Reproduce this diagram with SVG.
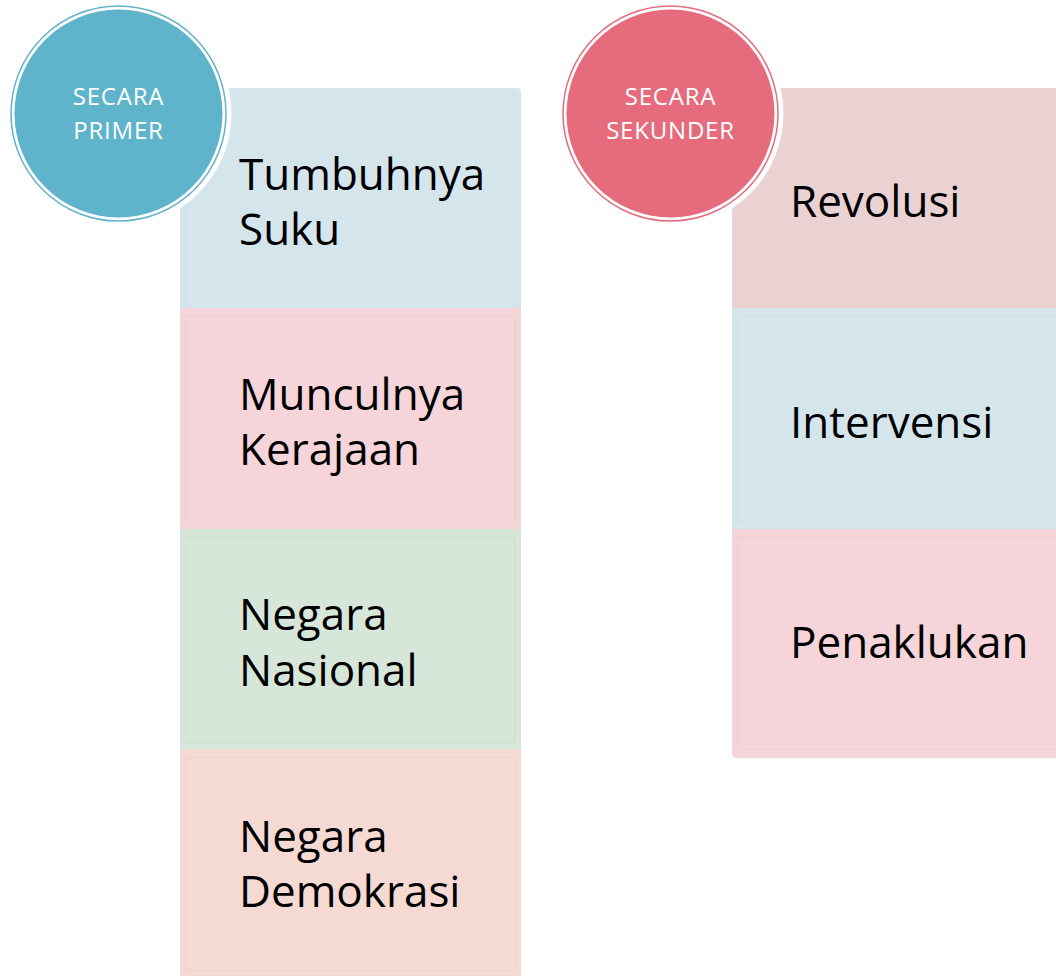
<svg xmlns="http://www.w3.org/2000/svg" width="1056" height="976" viewBox="0 0 1056 976">
<style>
.lbl{font-family:"Open Sans","Noto Sans",sans-serif;font-size:44px;fill:#000}
.ct{font-family:"Open Sans","Noto Sans",sans-serif;font-size:24px;letter-spacing:0.8px;fill:#fff;text-anchor:middle}
.inner{fill:none;stroke-opacity:0.25;stroke-width:2}
</style>
<rect width="1056" height="976" fill="#fff"/>
<g id="left-boxes">
<g id="box-tumbuhnya"><rect x="180" y="88" width="341" height="240" rx="4" fill="#D4E5EC"/><rect class="inner" x="186" y="94" width="329" height="228" stroke="#c4dbe4"/>
<text class="lbl" x="239" y="190">Tumbuhnya</text><text class="lbl" x="239" y="245">Suku</text></g>
<g id="box-munculnya"><rect x="180" y="308" width="341" height="240" rx="4" fill="#F5D5D9"/><rect class="inner" x="186" y="316" width="329" height="206" stroke="#ecc6cb"/>
<text class="lbl" x="239" y="410">Munculnya</text><text class="lbl" x="239" y="465">Kerajaan</text></g>
<g id="box-nasional"><rect x="180" y="529" width="341" height="240" rx="4" fill="#D6E6D9"/><rect class="inner" x="186" y="537" width="329" height="206" stroke="#c6dcc9"/>
<text class="lbl" x="239" y="630">Negara</text><text class="lbl" x="239" y="686">Nasional</text></g>
<g id="box-demokrasi"><rect x="180" y="749" width="341" height="240" rx="4" fill="#F5D9D3"/><rect class="inner" x="186" y="757" width="329" height="214" stroke="#eccbc4"/>
<text class="lbl" x="239" y="852">Negara</text><text class="lbl" x="239" y="907">Demokrasi</text></g>
</g>
<g id="right-boxes">
<g id="box-revolusi"><rect x="732" y="88" width="340" height="240" rx="4" fill="#EAD2D3"/>
<text class="lbl" x="790" y="217">Revolusi</text></g>
<g id="box-intervensi"><rect x="732" y="308" width="340" height="240" rx="4" fill="#D4E5EC"/><rect class="inner" x="738" y="316" width="330" height="206" stroke="#c4dbe4"/>
<text class="lbl" x="790" y="438">Intervensi</text></g>
<g id="box-penaklukan"><rect x="732" y="529" width="340" height="229" rx="4" fill="#F5D5D9"/><rect class="inner" x="738" y="537" width="330" height="212" stroke="#ecc6cb"/>
<text class="lbl" x="790" y="658">Penaklukan</text></g>
</g>
<g id="circle-primer">
<circle cx="118.5" cy="113.5" r="113" fill="#fff"/>
<circle cx="118.5" cy="113.5" r="107.5" fill="#fff" stroke="#5FB3CB" stroke-width="1.5"/>
<circle cx="118.5" cy="113.5" r="104" fill="#5FB3CB"/>
<text class="ct" x="118.5" y="105">SECARA</text><text class="ct" x="118.5" y="139">PRIMER</text>
</g>
<g id="circle-sekunder">
<circle cx="670.5" cy="113.5" r="113" fill="#fff"/>
<circle cx="670.5" cy="113.5" r="107.5" fill="#fff" stroke="#E56B7D" stroke-width="1.5"/>
<circle cx="670.5" cy="113.5" r="104" fill="#E56B7D"/>
<text class="ct" x="670.5" y="105">SECARA</text><text class="ct" x="670.5" y="139">SEKUNDER</text>
</g>
<g id="connectors"/>
</svg>
